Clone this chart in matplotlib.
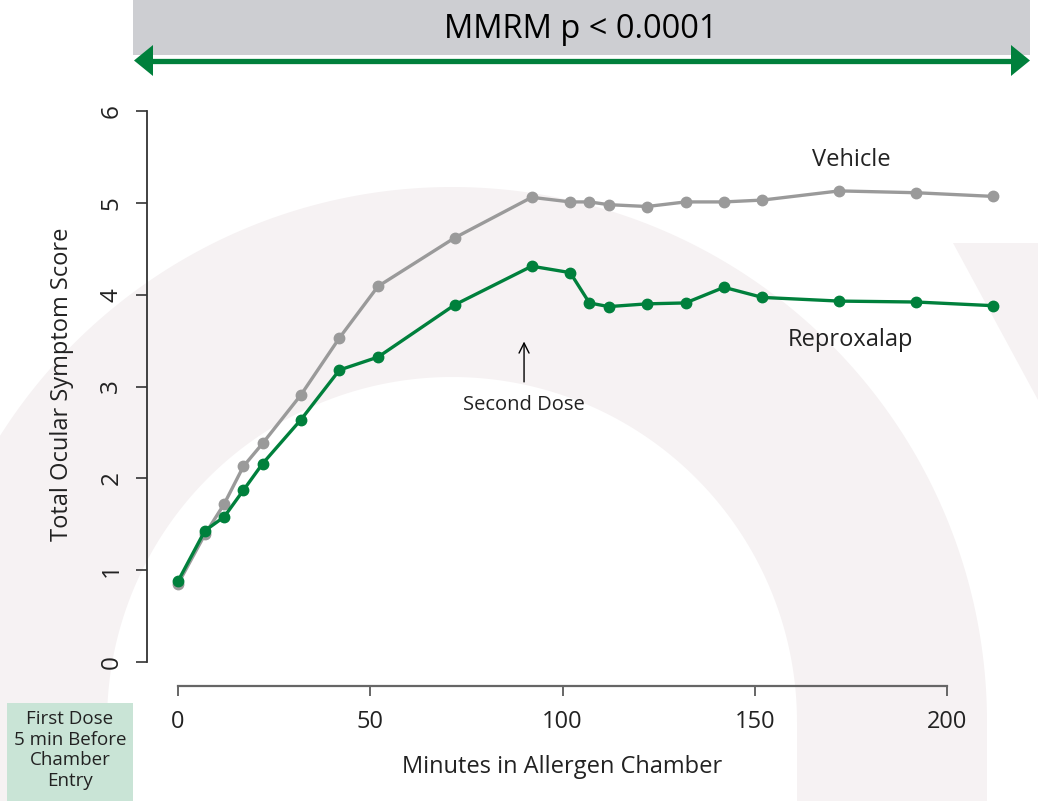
import matplotlib
matplotlib.use('Agg')
import matplotlib.pyplot as plt
from matplotlib.patches import Rectangle, Polygon
import numpy as np

plt.rcParams['font.family'] = ['Open Sans', 'DejaVu Sans']

# data
minutes = [0, 7, 12, 17, 22, 32, 42, 52, 72, 92, 102, 107, 112, 122, 132, 142, 152, 172, 192, 212]
vehicle = [0.85, 1.39, 1.72, 2.13, 2.38, 2.91, 3.53, 4.09, 4.62, 5.06, 5.01, 5.01, 4.98, 4.96,
           5.01, 5.01, 5.03, 5.13, 5.11, 5.07]
reproxalap = [0.88, 1.43, 1.58, 1.87, 2.16, 2.64, 3.18, 3.32, 3.89, 4.31, 4.24, 3.91, 3.87, 3.90,
              3.91, 4.08, 3.97, 3.93, 3.92, 3.88]
x_ticks = [0, 50, 100, 150, 200]
y_ticks = [0, 1, 2, 3, 4, 5, 6]

green = '#00803c'
grey_line = '#9a9a9a'
pink = '#f6f2f3'
text_col = '#222222'

W, H = 1038, 801
fig = plt.figure(figsize=(W / 100, H / 100), dpi=100)
fig.patch.set_facecolor('white')

# background layer in pixel coords (watermark, banner, note box)
bg = fig.add_axes([0, 0, 1, 1])
bg.set_xlim(0, W)
bg.set_ylim(H, 0)
bg.axis('off')

# watermark arch: half ring on top of two straight legs
cx, cy, r_out, r_in = 452, 722, 535, 345
t = np.linspace(0, np.pi, 200)
outer = np.column_stack([cx + r_out * np.cos(t), cy - r_out * np.sin(t)])
inner = np.column_stack([cx + r_in * np.cos(t[::-1]), cy - r_in * np.sin(t[::-1])])
arch = np.vstack([[[cx + r_out, H]], outer, [[cx - r_out, H], [cx - r_in, H]], inner,
                  [[cx + r_in, H]]])
bg.add_patch(Polygon(arch, closed=True, color=pink, lw=0))
bg.add_patch(Polygon([(953, 243), (1038, 243), (1038, 400)], closed=True, color=pink, lw=0))

bg.add_patch(Rectangle((133, 0), 897, 55, color='#cdced2', lw=0))
bg.plot([150, 1014], [60.5, 60.5], color=green, lw=3.8, solid_capstyle='butt')
bg.add_patch(Polygon([(134, 60.5), (153, 45), (153, 76)], closed=True, color=green, lw=0))
bg.add_patch(Polygon([(1030, 60.5), (1011, 45), (1011, 76)], closed=True, color=green, lw=0))
bg.text(581, 29, 'MMRM p < 0.0001', fontsize=23.5, ha='center', va='center', color='black')

bg.add_patch(Rectangle((7, 703), 126, 98, color='#c9e4d6', lw=0))
bg.text(70, 750, 'First Dose\n5 min Before\nChamber\nEntry', fontsize=13.5, ha='center',
        va='center', linespacing=1.18, color=text_col)

bg.text(62, 384, 'Total Ocular Symptom Score', fontsize=17, rotation=90, ha='center',
        va='center', color=text_col)
bg.text(562, 767, 'Minutes in Allergen Chamber', fontsize=17, ha='center', va='center',
        color=text_col)

# main plot
ax = fig.add_axes([147 / W, (H - 686) / H, (1010 - 147) / W, (686 - 105) / H])
ax.patch.set_alpha(0)
px_min = (947 - 178) / 200
px_unit = (662 - 111) / 6
ax.set_xlim((147 - 178) / px_min, (1010 - 178) / px_min)
ax.set_ylim((662 - 686) / px_unit, (662 - 105) / px_unit)

ax.plot(minutes, vehicle, color=grey_line, lw=2.4, marker='o', ms=7.5, zorder=3)
ax.plot(minutes, reproxalap, color=green, lw=2.4, marker='o', ms=7.5, zorder=4)

ax.text(175, 5.47, 'Vehicle', fontsize=17, ha='center', va='center', color=text_col)
ax.text(175, 3.51, 'Reproxalap', fontsize=17, ha='center', va='center', color=text_col)
ax.annotate('', xy=(90, 3.52), xytext=(90, 3.02),
            arrowprops=dict(arrowstyle='->', color='black', lw=1.0, mutation_scale=18))
ax.text(90, 2.80, 'Second Dose', fontsize=14.5, ha='center', va='center', color=text_col)

for s in ['top', 'right']:
    ax.spines[s].set_visible(False)
ax.spines['left'].set_bounds(0, 6)
ax.spines['bottom'].set_bounds(0, 200)
ax.spines['left'].set_color('#333333')
ax.spines['bottom'].set_color('#666666')
ax.spines['left'].set_linewidth(1.3)
ax.spines['bottom'].set_linewidth(1.6)

ax.set_xticks(x_ticks)
ax.set_yticks(y_ticks)
ax.set_yticklabels([str(v) for v in y_ticks], rotation=90, va='center', fontsize=17.5)
ax.tick_params(axis='y', direction='out', length=8, width=1.2, color='#333333', pad=9,
               labelcolor=text_col)
ax.tick_params(axis='x', direction='out', length=7, width=1.4, color='#666666', pad=10,
               labelsize=17, labelcolor=text_col)

fig.savefig('out.png', dpi=100)
